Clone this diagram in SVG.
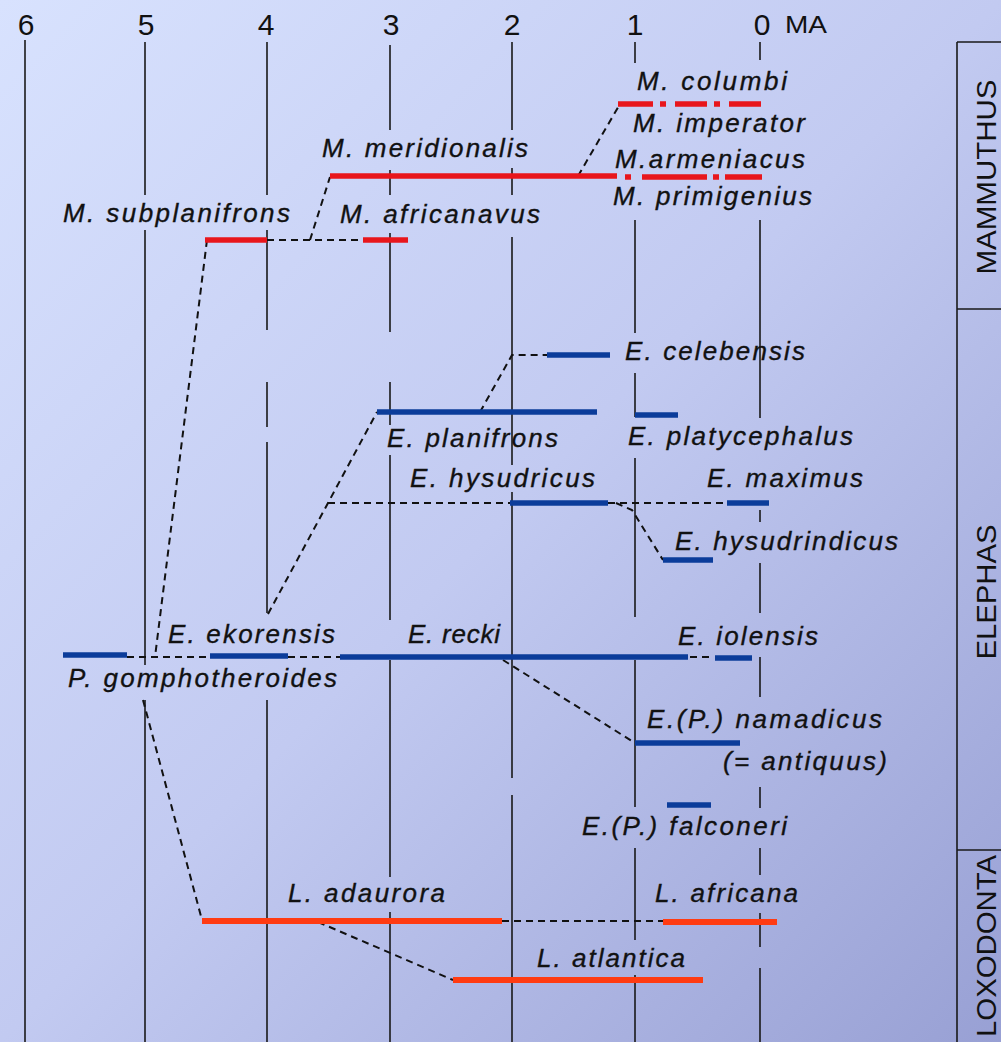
<svg xmlns="http://www.w3.org/2000/svg" width="1001" height="1042" viewBox="0 0 1001 1042">
<defs>
<linearGradient id="bg" x1="0" y1="0" x2="1" y2="1">
<stop offset="0" stop-color="#d8e2fe"/>
<stop offset="0.5" stop-color="#c2caf1"/>
<stop offset="1" stop-color="#98a0d4"/>
</linearGradient>
<style>
.grid{stroke:#1a1a1a;stroke-width:1.6;fill:none}
.dash{stroke:#111;stroke-width:2;fill:none;stroke-dasharray:7 5}
.mam{stroke:#e8161c;stroke-width:5.5;fill:none}
.ele{stroke:#0b3c9a;stroke-width:5.5;fill:none}
.lox{stroke:#ff3b12;stroke-width:6;fill:none}
.lab{font-family:"Liberation Sans",Arial,sans-serif;font-style:italic;font-size:26px;fill:#111;stroke:#111;stroke-width:0.35}
.ax{font-family:"Liberation Sans",Arial,sans-serif;font-size:30px;fill:#111;text-anchor:middle}
.gen{font-family:"Liberation Sans",Arial,sans-serif;font-size:28px;fill:#111;text-anchor:middle}
</style>
</defs>
<rect width="1001" height="1042" fill="url(#bg)"/>

<g id="axis">
<text class="ax" x="26" y="35">6</text>
<text class="ax" x="146" y="35">5</text>
<text class="ax" x="266" y="35">4</text>
<text class="ax" x="391" y="35">3</text>
<text class="ax" x="512" y="35">2</text>
<text class="ax" x="635" y="35">1</text>
<text class="ax" x="762" y="35">0</text>
<text x="785" y="33" style="font-family:'Liberation Sans',Arial,sans-serif;font-size:23px;fill:#111" textLength="42" lengthAdjust="spacingAndGlyphs">MA</text>
<path class="grid" d="M25,40V1042"/>
<path class="grid" d="M145,42V195M145,230V665M145,700V1042"/>
<path class="grid" d="M267,42V195M267,230V330M267,382V427M267,442V613M267,700V1042"/>
<path class="grid" d="M390,45V130M390,170V195M390,233V332M390,382V425M390,455V620M390,660V877M390,912V1042"/>
<path class="grid" d="M512,42V130M512,168V195M512,237V465M512,492V778M512,795V1042"/>
<path class="grid" d="M635,42V63M635,220V333M635,373V417M635,458V617M635,660V807M635,848V940M635,975V1042"/>
<path class="grid" d="M760,42V60M760,220V418M760,510V522M760,563V613M760,657V697M760,787V808M760,848V875M760,913V947M760,968V1042"/>
</g>

<g id="genera">
<path class="grid" d="M957,42V1042M957,42H1001M957,309H1001M957,850H1001"/>
<text class="gen" transform="translate(996,177) rotate(-90)" textLength="195" lengthAdjust="spacingAndGlyphs">MAMMUTHUS</text>
<text class="gen" transform="translate(996,592) rotate(-90)" textLength="135" lengthAdjust="spacingAndGlyphs">ELEPHAS</text>
<text class="gen" transform="translate(996,946) rotate(-90)" textLength="182" lengthAdjust="spacingAndGlyphs">LOXODONTA</text>
</g>

<g id="connectors">
<path class="dash" d="M267,240H363"/>
<path class="dash" d="M310,240L330,177"/>
<path class="dash" d="M578,176L620,104"/>
<path class="dash" d="M207,240L155,657"/>
<path class="dash" d="M127,657H210M288,657H340M690,657H712"/>
<path class="dash" d="M268,614L328,503L377,412"/>
<path class="dash" d="M328,503H510M608,503H727"/>
<path class="dash" d="M616,503L632,510L663,560"/>
<path class="dash" d="M480,412L512,355H547"/>
<path class="dash" d="M503,660L635,743"/>
<path class="dash" d="M143,700L202,920"/>
<path class="dash" d="M502,921H663"/>
<path class="dash" d="M318,922L453,980"/>
</g>

<g id="m-columbi">
<path class="mam" d="M618,104H653M660,104H666M675,104H707M714,104H720M729,104H761"/>
<text class="lab" x="637" y="90" textLength="150" lengthAdjust="spacing">M. columbi</text>
</g>
<g id="m-imperator"><text class="lab" x="633" y="132" textLength="172" lengthAdjust="spacing">M. imperator</text></g>
<g id="m-armeniacus"><text class="lab" x="615" y="168" textLength="190" lengthAdjust="spacing">M.armeniacus</text></g>
<g id="m-primigenius">
<path class="mam" d="M625,177H631M642,177H707M713,177H719M725,177H762"/>
<text class="lab" x="613" y="205" textLength="199" lengthAdjust="spacing">M. primigenius</text>
</g>
<g id="m-meridionalis">
<path class="mam" d="M330,176H617"/>
<text class="lab" x="322" y="157" textLength="206" lengthAdjust="spacing">M. meridionalis</text>
</g>
<g id="m-africanavus">
<path class="mam" d="M363,240H408"/>
<text class="lab" x="340" y="223" textLength="200" lengthAdjust="spacing">M. africanavus</text>
</g>
<g id="m-subplanifrons">
<path class="mam" d="M205,240H267"/>
<text class="lab" x="63" y="222" textLength="227" lengthAdjust="spacing">M. subplanifrons</text>
</g>

<g id="e-celebensis">
<path class="ele" d="M547,355H610"/>
<text class="lab" x="625" y="360" textLength="180" lengthAdjust="spacing">E. celebensis</text>
</g>
<g id="e-planifrons">
<path class="ele" d="M377,412H597"/>
<text class="lab" x="387" y="447" textLength="171" lengthAdjust="spacing">E. planifrons</text>
</g>
<g id="e-platycephalus">
<path class="ele" d="M635,415H678"/>
<text class="lab" x="628" y="445" textLength="225" lengthAdjust="spacing">E. platycephalus</text>
</g>
<g id="e-hysudricus">
<path class="ele" d="M510,503H608"/>
<text class="lab" x="410" y="487" textLength="185" lengthAdjust="spacing">E. hysudricus</text>
</g>
<g id="e-maximus">
<path class="ele" d="M727,503H769"/>
<text class="lab" x="707" y="487" textLength="156" lengthAdjust="spacing">E. maximus</text>
</g>
<g id="e-hysudrindicus">
<path class="ele" d="M663,560H713"/>
<text class="lab" x="675" y="550" textLength="223" lengthAdjust="spacing">E. hysudrindicus</text>
</g>
<g id="p-gomphotheroides">
<path class="ele" d="M63,655H127"/>
<text class="lab" x="68" y="687" textLength="269" lengthAdjust="spacing">P. gomphotheroides</text>
</g>
<g id="e-ekorensis">
<path class="ele" d="M210,656H288"/>
<text class="lab" x="168" y="643" textLength="167" lengthAdjust="spacing">E. ekorensis</text>
</g>
<g id="e-recki">
<path class="ele" d="M340,657H688"/>
<text class="lab" x="408" y="643" textLength="92" lengthAdjust="spacing">E. recki</text>
</g>
<g id="e-iolensis">
<path class="ele" d="M715,658H752"/>
<text class="lab" x="678" y="645" textLength="140" lengthAdjust="spacing">E. iolensis</text>
</g>
<g id="e-namadicus">
<path class="ele" d="M635,743H740"/>
<text class="lab" x="647" y="728" textLength="235" lengthAdjust="spacing">E.(P.) namadicus</text>
<text class="lab" x="723" y="770" textLength="164" lengthAdjust="spacing">(= antiquus)</text>
</g>
<g id="e-falconeri">
<path class="ele" d="M667,805H711"/>
<text class="lab" x="582" y="835" textLength="205" lengthAdjust="spacing">E.(P.) falconeri</text>
</g>

<g id="l-adaurora">
<path class="lox" d="M202,921H502"/>
<text class="lab" x="288" y="902" textLength="157" lengthAdjust="spacing">L. adaurora</text>
</g>
<g id="l-africana">
<path class="lox" d="M663,922H777"/>
<text class="lab" x="655" y="902" textLength="143" lengthAdjust="spacing">L. africana</text>
</g>
<g id="l-atlantica">
<path class="lox" d="M453,980H703"/>
<text class="lab" x="537" y="967" textLength="148" lengthAdjust="spacing">L. atlantica</text>
</g>
</svg>
